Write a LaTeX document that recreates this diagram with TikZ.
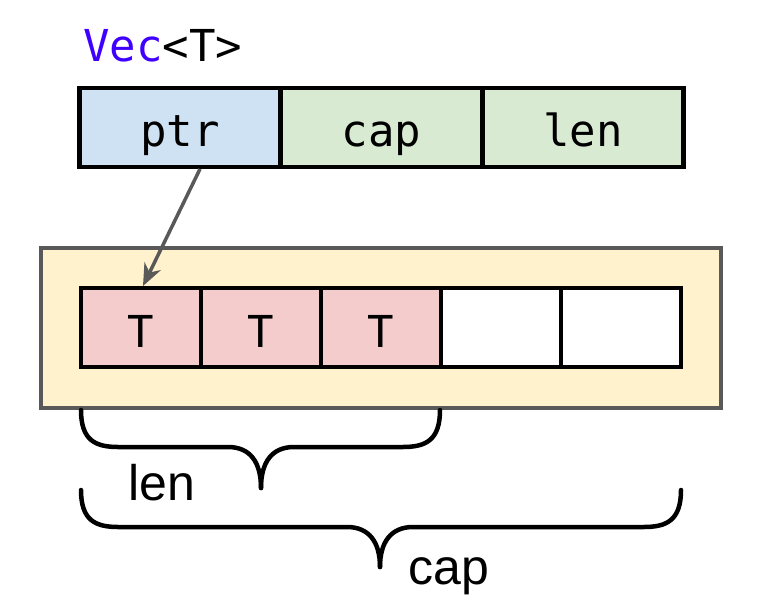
\documentclass[tikz,border=0pt]{standalone}
\usepackage{fontspec}
\setmainfont{Liberation Sans}
\newfontfamily\codefont{DejaVu Sans Mono}
\usetikzlibrary{arrows.meta}
\definecolor{ptrblue}{HTML}{CFE2F3}
\definecolor{fieldgreen}{HTML}{D9EAD3}
\definecolor{heapyellow}{HTML}{FFF2CC}
\definecolor{elempink}{HTML}{F4CCCC}
\definecolor{edgegray}{HTML}{595959}
\definecolor{kwpurple}{HTML}{4000FF}
\begin{document}
\begin{tikzpicture}[x=1pt,y=-1pt,
  field/.style={draw=black, line width=4.5pt, minimum width=201pt, minimum height=79pt,
    inner sep=0pt, outer sep=0pt, text height=37pt, text depth=0pt,
    font=\codefont\fontsize{44}{46}\selectfont},
  cell/.style={draw=black, line width=4.5pt, minimum width=120pt, minimum height=79pt,
    inner sep=0pt, outer sep=0pt, text height=39pt, text depth=0pt,
    font=\codefont\fontsize{44}{46}\selectfont},
  brace/.style={draw=black, line width=4.5pt, line cap=round, line join=round},
  label/.style={font=\fontsize{50}{52}\selectfont, inner sep=0pt}]
\useasboundingbox (0,0) rectangle (768,613);

% Vec header with its three fields
\node[anchor=base west, inner sep=0pt, font=\codefont\fontsize{44}{46}\selectfont]
  (title) at (83,61) {\textcolor{kwpurple}{Vec}<T>};
\node[field, fill=ptrblue]    (ptr) at (180,127.5) {ptr};
\node[field, fill=fieldgreen] (cap) at (381.5,127.5) {cap};
\node[field, fill=fieldgreen] (len) at (583,127.5) {len};

% heap allocation
\node[draw=edgegray, fill=heapyellow, line width=4.5pt, minimum width=680pt,
  minimum height=160pt, inner sep=0pt, outer sep=0pt] (heap) at (381,328) {};
\node[cell, fill=elempink] (c1) at (141,327.5) {T};
\node[cell, fill=elempink] (c2) at (261,327.5) {T};
\node[cell, fill=elempink] (c3) at (381,327.5) {T};
\node[cell, fill=white]    (c4) at (501,327.5) {};
\node[cell, fill=white]    (c5) at (621,327.5) {};

% pointer into the buffer
\coordinate (ptrfoot) at (200,169);
\coordinate (ptrtip) at (143,286);
\draw[edgegray, line width=3.5pt, -{Stealth[length=22pt,width=18pt,inset=7pt]}]
  (ptrfoot) -- (ptrtip);

% len brace
\coordinate (lenL) at (81,410);
\coordinate (lenR) at (440,410);
\coordinate (lenTip) at (261,488);
\draw[brace] (lenL) .. controls (81,440) and (95,447) .. (118,447)
  -- (228,447) .. controls (250,447) and (261,462) .. (lenTip);
\draw[brace] (lenR) .. controls (440,440) and (426,447) .. (403,447)
  -- (294,447) .. controls (272,447) and (261,462) .. (lenTip);
\node[label, anchor=base] (lenlabel) at (162,500) {len};

% cap brace
\coordinate (capL) at (81,490);
\coordinate (capR) at (681,490);
\coordinate (capTip) at (380,567);
\draw[brace] (capL) .. controls (81,520) and (95,527) .. (118,527)
  -- (347,527) .. controls (369,527) and (380,542) .. (capTip);
\draw[brace] (capR) .. controls (681,520) and (667,527) .. (644,527)
  -- (413,527) .. controls (391,527) and (380,542) .. (capTip);
\node[label, anchor=base] (caplabel) at (449,584) {cap};
\end{tikzpicture}
\end{document}
